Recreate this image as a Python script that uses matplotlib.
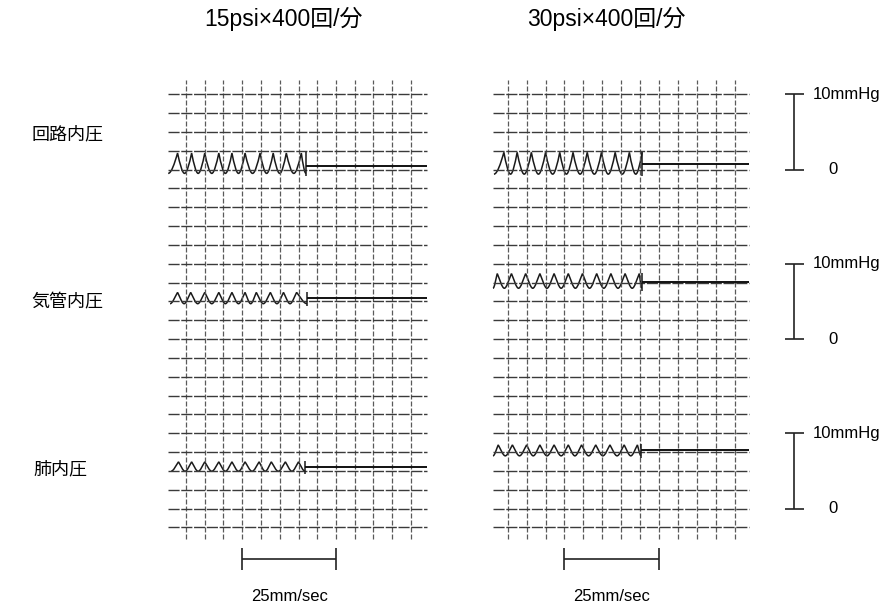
import matplotlib
matplotlib.use('Agg')
import matplotlib.pyplot as plt
from matplotlib.path import Path
from matplotlib.patches import PathPatch
import numpy as np

plt.rcParams['font.family'] = ['Liberation Sans', 'Noto Sans CJK JP']

# --- data (time in s, pressure in mmHg above each channel's zero) ---
titles = ['15psi×400回/分', '30psi×400回/分']
channels = ['回路内圧', '気管内圧', '肺内圧']
scale_text = '10mmHg'
speed_text = '25mm/sec'

# 15psi panel
L_start = [-0.19, -0.17, -0.16]
L_end = [1.28, 1.29, 1.27]
L_peaks = [
    [-0.09, 0.06, 0.20, 0.35, 0.49, 0.63, 0.79, 0.93, 1.07, 1.23],
    [-0.09, 0.05, 0.20, 0.35, 0.49, 0.63, 0.75, 0.90, 1.04, 1.18],
    [-0.08, 0.06, 0.20, 0.35, 0.49, 0.63, 0.78, 0.91, 1.06, 1.20],
]
L_hi = [2.2, 6.2, 6.2]
L_lo = [-0.5, 4.7, 4.95]
L_flat = [0.5, 5.4, 5.55]

# 30psi panel
R_start = [-0.145, -0.155, -0.155]
R_end = [1.42, 1.415, 1.408]
R_peaks = [
    [-0.04, 0.10, 0.25, 0.40, 0.55, 0.69, 0.84, 0.99, 1.135, 1.285, 1.42],
    [-0.11, 0.04, 0.19, 0.34, 0.49, 0.64, 0.79, 0.94, 1.09, 1.24, 1.39],
    [-0.10, 0.05, 0.20, 0.34, 0.49, 0.64, 0.78, 0.93, 1.08, 1.23, 1.37],
]
R_hi = [2.3, 8.7, 8.45]
R_lo = [-0.6, 6.75, 7.0]
R_flat = [0.75, 7.6, 7.8]

scale_bar = [0, 10]       # mmHg
speed_bar = [0.6, 1.6]    # s  (25 mm)

# --- layout ---
offsets = [0.0, -22.5, -45.0]   # zero line of each channel on the paper
cell_t, cell_p = 0.2, 2.5       # 5 mm grid
ylim = (-58.47, 22.52)
sharp = [1.6, 1.1, 1.1]         # how pointed the peaks are per channel

fig = plt.figure(figsize=(8.95, 6.10), dpi=100)
axL = fig.add_axes([0, 0, 450 / 895, 1])
axR = fig.add_axes([450 / 895, 0, 445 / 895, 1])
axL.set_xlim(-1.984, 2.816)
axR.set_xlim(-0.609, 4.090)
for ax in (axL, axR):
    ax.set_ylim(*ylim)
    ax.axis('off')


def paper(ax, x0, x1):
    rows = 10 - cell_p * np.arange(24)
    cols = cell_t * np.arange(13)
    ax.vlines(cols, -49.1, 11.9, color='#5a5a5a', lw=0.9, ls=(0, (4, 1.6)))
    ax.hlines(rows, x0, x1, color='#3a3a3a', lw=1.0, ls=(0, (8, 1.2)))


def seg(p0, p1, m0, m1):
    dx = p1[0] - p0[0]
    return [(p0[0] + dx / 3, p0[1] + m0 * dx / 3), (p1[0] - dx / 3, p1[1] - m1 * dx / 3), p1]


def trace(ax, t0, t1, peaks, hi, lo, flat, off, x1, k):
    hi, lo, flat = hi + off, lo + off, flat + off
    amp = hi - lo
    # alternating trough / peak vertices
    pts = [(t0, lo)]
    for a, b in zip(peaks[:-1], peaks[1:]):
        pts += [(a, hi), ((a + b) / 2, lo)]
    pts.append((peaks[-1], hi))
    if t1 > peaks[-1] + 0.005:
        pts.append((t1, lo))
    verts, codes = [pts[0]], [Path.MOVETO]
    for p0, p1 in zip(pts[:-1], pts[1:]):
        dx = p1[0] - p0[0]
        if p1[1] > p0[1]:       # rising into a peak
            m0, m1 = 0, k * amp / dx
        else:                   # falling out of a peak
            m0, m1 = -k * amp / dx, 0
        verts += seg(p0, p1, m0, m1)
        codes += [Path.CURVE4] * 3
    ax.add_patch(PathPatch(Path(verts, codes), fill=False, ec='#1a1a1a', lw=1.1))
    ax.vlines(t1, lo - 0.3, hi + 0.1, color='#1a1a1a', lw=1.1)
    ax.hlines(flat, t1, x1, color='#111111', lw=1.4)


paper(axL, -0.19, 2.57)
paper(axR, -0.155, 2.55)
for i in range(3):
    trace(axL, L_start[i], L_end[i], L_peaks[i], L_hi[i], L_lo[i], L_flat[i],
          offsets[i], 2.57, sharp[i])
    trace(axR, R_start[i], R_end[i], R_peaks[i], R_hi[i], R_lo[i], R_flat[i],
          offsets[i], 2.55, sharp[i])

# channel labels
for name, off, dy, x in zip(channels, offsets, [4.6, 4.8, 5.1], [-1.653, -1.653, -1.632]):
    axL.text(x, off + dy, name, fontsize=13, va='center', ha='left')

# panel titles
for ax, t in zip((axL, axR), titles):
    ax.text(1.04, 20.0, t, fontsize=16.5, ha='center', va='center')

# pressure scale bars
for off in offsets:
    axR.vlines(3.023, off + scale_bar[0], off + scale_bar[1], color='#222222', lw=1.2)
    axR.hlines([off + scale_bar[0], off + scale_bar[1]], 2.93, 3.13, color='#222222', lw=1.2)
    axR.text(3.224, off + scale_bar[1], scale_text, fontsize=12, va='center', ha='left')
    axR.text(3.382, off + scale_bar[0], '0', fontsize=12, va='center', ha='left')

# paper speed bars
for ax in (axL, axR):
    ax.hlines(-51.74, speed_bar[0], speed_bar[1], color='#222222', lw=1.2)
    ax.vlines(speed_bar, -53.2, -50.2, color='#222222', lw=1.2)
    ax.text(sum(speed_bar) / 2, -56.7, speed_text, fontsize=12, ha='center', va='center')

fig.savefig('out.png', dpi=100)
